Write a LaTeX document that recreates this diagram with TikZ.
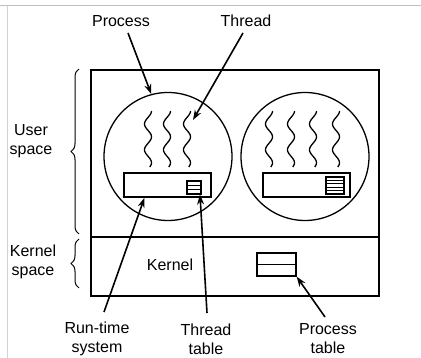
\documentclass[tikz,border=0pt]{standalone}
\usepackage{fontspec}
\setmainfont{Liberation Sans}
\usetikzlibrary{arrows.meta,decorations.pathreplacing}
\begin{document}
\begin{tikzpicture}[x=1pt,y=-1pt,
  lbl/.style={font=\fontsize{16}{19}\selectfont, align=center, inner sep=0pt},
  frame/.style={draw, line width=1.6pt},
  proc/.style={draw, circle, line width=1.3pt, minimum size=128pt, inner sep=0pt},
  rts/.style={draw, line width=1.4pt, minimum width=87pt, minimum height=24pt, inner sep=0pt},
  tbl/.style={draw, line width=1.1pt, inner sep=0pt},
  arr/.style={line width=1.6pt, -{Stealth[length=10pt,width=7pt]}},
  brc/.style={decorate, decoration={brace, amplitude=8pt}, line width=1pt},
  wave/.style={line width=1.3pt}]
\useasboundingbox (0,0) rectangle (421,358);
\draw[gray!50, line width=1pt] (0,6) -- (421,6);
\draw[gray!35, line width=0.8pt] (7,6) -- (7,358);
% outer frame
\node[frame, minimum width=288pt, minimum height=226pt, inner sep=0pt] (outer) at (235,183) {};
\coordinate (divL) at (91,237);
\coordinate (divR) at (379,237);
\draw[line width=1.6pt] (divL) -- (divR);
% processes
\node[proc] (pc1) at (168,156.5) {};
\node[proc] (pc2) at (305,156.5) {};
% threads
\foreach \xx in {148,167,187}{
  \draw[wave] plot[domain=0:1, samples=50, smooth] ({\xx+3.5*sin(780*\x+90)}, {111+56*\x});
}
\foreach \xx in {269,291,313,336}{
  \draw[wave] plot[domain=0:1, samples=50, smooth] ({\xx+3.5*sin(780*\x+90)}, {111+56*\x});
}
% run-time system boxes
\node[rts] (rt1) at (167.5,185) {};
\node[rts] (rt2) at (306.5,185) {};
% thread tables
\node[tbl, minimum width=14pt, minimum height=13pt] (tt1) at (194,187.5) {};
\draw[line width=1pt] (187,185.3) -- (201,185.3) (187,189.7) -- (201,189.7);
\node[tbl, minimum width=18pt, minimum height=17pt] (tt2) at (335,185.5) {};
\foreach \yy in {180.4,183.8,187.2,190.6}{ \draw[line width=1pt] (326,\yy) -- (344,\yy); }
% kernel
\node[lbl] (kern) at (170,265) {Kernel};
\node[tbl, line width=1.3pt, minimum width=39pt, minimum height=23pt] (ptab) at (276.5,264.5) {};
\draw[line width=1.3pt] (ptab.west) -- (ptab.east);
% braces
\coordinate (ub1) at (79,234);
\coordinate (ub2) at (79,69);
\coordinate (kb1) at (79,288);
\coordinate (kb2) at (79,239);
\draw[brc] (ub1) -- (ub2);
\draw[brc] (kb1) -- (kb2);
% labels
\node[lbl] (luser) at (31,141) {User\\space};
\node[lbl] (lkern) at (33,262) {Kernel\\space};
\node[lbl] (lproc) at (121,21) {Process};
\node[lbl] (lthr) at (246,21) {Thread};
\node[lbl] (lrts) at (97,339) {Run-time\\system};
\node[lbl] (ltt) at (206,339) {Thread\\table};
\node[lbl] (lpt) at (328,339) {Process\\table};
% arrows
\coordinate (a1) at (128,33);
\coordinate (a2) at (243,33);
\coordinate (a3) at (104,312);
\coordinate (a4) at (207,313);
\coordinate (a5) at (325,317);
\coordinate (t2) at (193,120);
\draw[arr] (a1) -- (pc1.105);
\draw[arr] (a2) -- (t2);
\draw[arr] (a3) -- ([xshift=-23pt]rt1.south);
\draw[arr] (a4) -- ([xshift=6pt]tt1.south);
\draw[arr] (a5) -- (ptab.south east);
\end{tikzpicture}
\end{document}
